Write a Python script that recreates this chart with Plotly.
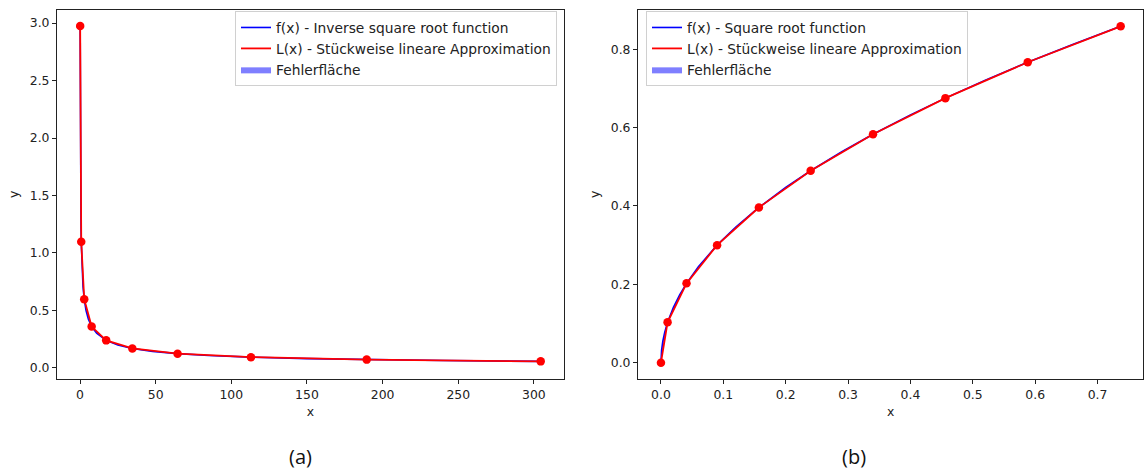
import plotly.graph_objects as go

# ---- Data ----
# (a) inverse square root
a_curve_x = [0.113, 0.14, 0.18, 0.25, 0.35, 0.5, 0.65, 0.83, 1.1, 1.5, 2.0, 2.8, 4.0, 5.5,
             7.7, 11, 17.3, 25, 34.6, 48, 64.5, 85, 113, 150, 189.5, 240, 304.5]
a_curve_y = [2.975, 2.673, 2.357, 2.0, 1.690, 1.414, 1.240, 1.098, 0.953, 0.816, 0.707, 0.598,
             0.5, 0.426, 0.360, 0.302, 0.240, 0.2, 0.170, 0.144, 0.1245, 0.1085, 0.094,
             0.0816, 0.0726, 0.0645, 0.0573]
a_pts_x = [0.113, 0.83, 2.8, 7.7, 17.3, 34.6, 64.5, 113, 189.5, 304.5]
a_pts_y = [2.975, 1.098, 0.598, 0.360, 0.240, 0.170, 0.1245, 0.094, 0.0726, 0.0573]

# (b) square root
b_curve_x = [0, 0.001, 0.003, 0.006, 0.0106, 0.02, 0.03, 0.041, 0.06, 0.09, 0.12, 0.157,
             0.2, 0.24, 0.29, 0.34, 0.4, 0.456, 0.52, 0.588, 0.66, 0.737]
b_curve_y = [0, 0.0316, 0.0548, 0.0775, 0.103, 0.1414, 0.1732, 0.2025, 0.245, 0.3, 0.3464,
             0.3962, 0.4472, 0.4899, 0.5385, 0.5831, 0.6325, 0.6753, 0.7211, 0.7668, 0.8124,
             0.8585]
b_pts_x = [0, 0.0106, 0.041, 0.09, 0.157, 0.24, 0.34, 0.456, 0.588, 0.737]
b_pts_y = [0, 0.103, 0.2025, 0.3, 0.3962, 0.4899, 0.5831, 0.6753, 0.7668, 0.8585]

f_names = ["f(x) - Inverse square root function", "f(x) - Square root function"]
l_name = "L(x) - Stückweise lineare Approximation"
fill_name = "Fehlerfläche"
captions = ["(a)", "(b)"]

BLUE = "#0000ff"
RED = "#ff0000"
FONT = "DejaVu Sans"
FS = 12.4
LFS = 13.8

fig = go.Figure()

panels = [
    (a_curve_x, a_curve_y, a_pts_x, a_pts_y, "x", "y", "legend"),
    (b_curve_x, b_curve_y, b_pts_x, b_pts_y, "x2", "y2", "legend2"),
]

for i, (cx, cy, px, py, xa, ya, lg) in enumerate(panels):
    # base for the error fill
    fig.add_trace(go.Scatter(x=px, y=py, mode="lines", line=dict(width=0, color=RED),
                             showlegend=False, hoverinfo="skip", xaxis=xa, yaxis=ya))
    # error area
    fig.add_trace(go.Scatter(x=cx, y=cy, mode="lines", line=dict(width=0, color=BLUE),
                             fill="tonexty", fillcolor="rgba(0,0,255,0.5)",
                             name=fill_name, legend=lg, legendrank=3, xaxis=xa, yaxis=ya))
    # f(x)
    fig.add_trace(go.Scatter(x=cx, y=cy, mode="lines", line=dict(width=1.6, color=BLUE),
                             name=f_names[i], legend=lg, legendrank=1, xaxis=xa, yaxis=ya))
    # L(x) line
    fig.add_trace(go.Scatter(x=px, y=py, mode="lines", line=dict(width=1.8, color=RED),
                             name=l_name, legend=lg, legendrank=2, xaxis=xa, yaxis=ya))
    # L(x) nodes
    fig.add_trace(go.Scatter(x=px, y=py, mode="markers", marker=dict(size=8.5, color=RED),
                             showlegend=False, xaxis=xa, yaxis=ya))

axis_common = dict(showline=True, mirror=True, linecolor="#222", linewidth=1,
                   ticks="outside", ticklen=4, tickcolor="#222", showgrid=False,
                   zeroline=False, tickfont=dict(family=FONT, size=FS, color="#222"),
                   title_font=dict(family=FONT, size=FS, color="#222"))

ydom = [1 - 379 / 474, 1 - 9.7 / 474]
legend_common = dict(font=dict(family=FONT, size=LFS, color="#222"), bgcolor="rgba(255,255,255,0.8)",
                     bordercolor="#d0d0d0", borderwidth=1, yanchor="top", y=1 - 11 / 474,
                     traceorder="normal", tracegroupgap=0)

fig.update_layout(
    width=1144, height=474, margin=dict(l=0, r=0, t=0, b=0),
    plot_bgcolor="white", paper_bgcolor="white",
    xaxis=dict(domain=[57 / 1144, 564 / 1144], range=[-15.2, 319.9],
               tickvals=[0, 50, 100, 150, 200, 250, 300], title=dict(text="x", standoff=6),
               anchor="y", **axis_common),
    yaxis=dict(domain=ydom, range=[-0.096, 3.116], tickvals=[0, 0.5, 1, 1.5, 2, 2.5, 3],
               tickformat=".1f", title=dict(text="y", standoff=8), anchor="x", **axis_common),
    xaxis2=dict(domain=[638 / 1144, 0.9995], range=[-0.0368, 0.7735],
                tickvals=[0, 0.1, 0.2, 0.3, 0.4, 0.5, 0.6, 0.7], tickformat=".1f",
                title=dict(text="x", standoff=6), anchor="y2", **axis_common),
    yaxis2=dict(domain=ydom, range=[-0.0416, 0.901], tickvals=[0, 0.2, 0.4, 0.6, 0.8],
                tickformat=".1f", title=dict(text="y", standoff=8), anchor="x2", **axis_common),
    legend=dict(x=557 / 1144, xanchor="right", **legend_common),
    legend2=dict(x=646 / 1144, xanchor="left", **legend_common),
    annotations=[
        dict(text=captions[0], x=287 / 1144, y=1 - 456 / 474, xref="paper", yref="paper",
             yanchor="middle", showarrow=False, font=dict(family="Open Sans", size=20, color="#111")),
        dict(text=captions[1], x=868 / 1144, y=1 - 456 / 474, xref="paper", yref="paper",
             yanchor="middle", showarrow=False, font=dict(family="Open Sans", size=20, color="#111")),
    ],
)

fig.write_html("out.html")
